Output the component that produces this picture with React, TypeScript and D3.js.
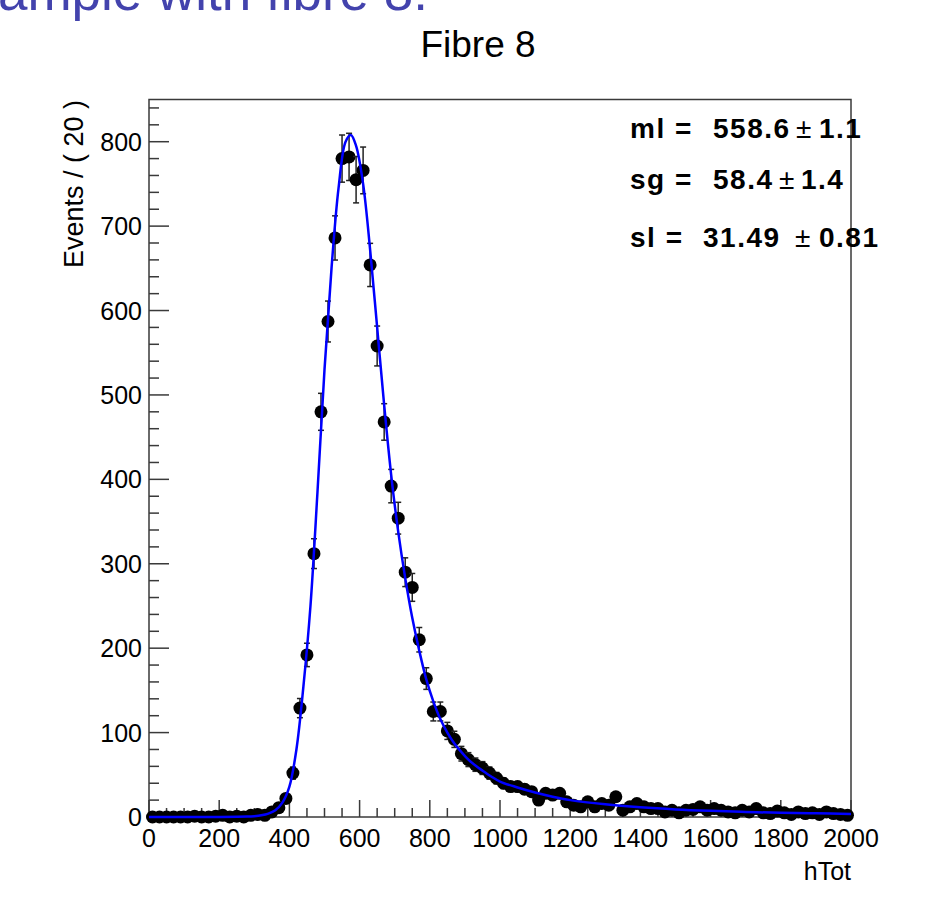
import React from "react";
import * as d3 from "d3";

// ---- Data ----
const binWidth = 20;
const binStart = 0;
const counts: number[] = [
  0, 0, 0, 0, 0, 0, 1, 0, 0, 1,
  2, 0, 1, 0, 2, 3, 2, 6, 11, 22,
  52, 129, 192, 312, 480, 587, 686, 780, 782, 755,
  766, 654, 558, 468, 392, 354, 290, 272, 210, 164,
  125, 125, 102, 92, 75, 68, 62, 58, 52, 46,
  40, 36, 36, 33, 30, 20, 28, 26, 28, 18,
  14, 12, 18, 12, 16, 14, 24, 8, 12, 16,
  12, 10, 10, 6, 8, 5, 8, 9, 12, 8,
  10, 8, 6, 5, 8, 6, 10, 5, 4, 7,
  5, 3, 6, 4, 5, 3, 6, 4, 3, 2,
];

// fit curve samples (x, y)
const curveX: number[] = [0, 200, 280, 300, 320, 340, 360, 380, 400, 420, 440, 460, 480, 500, 520, 540, 560, 575, 590, 610, 630, 650, 670, 690, 710, 730, 750, 770, 790, 810, 830, 850, 870, 890, 910, 930, 950, 975, 1000, 1050, 1100, 1150, 1200, 1300, 1400, 1500, 1600, 1700, 1800, 1900, 2000];
const curveY: number[] = [0, 0.05, 0.5, 1, 2, 4, 8, 17, 36, 80, 155, 250, 385, 530, 650, 745, 800, 808, 795, 750, 672, 580, 488, 405, 338, 283, 236, 197, 163, 137, 116, 100, 87, 77, 68, 61, 55, 48, 42, 35, 29, 24, 20, 15, 11.5, 9, 7.3, 6, 5, 4.3, 3.7];

const xMajorTicks = [0, 200, 400, 600, 800, 1000, 1200, 1400, 1600, 1800, 2000];
const yMajorTicks = [0, 100, 200, 300, 400, 500, 600, 700, 800];

const titleText = "Fibre 8";
const headerText = "Example with fibre 8:";
const yTitle = "Events / ( 20 )";
const xTitle = "hTot";
const paramLabels = ["ml =", "sg =", "sl ="];
const paramValues = ["558.6", "58.4", "31.49"];
const paramErrors = ["1.1", "1.4", "0.81"];

// ---- Layout ----
const W = 938;
const H = 907;
const left = 149;
const right = 851;
const top = 99.5;
const bottom = 817;

export default function App() {
  const x = d3.scaleLinear().domain([0, 2000]).range([left, right]);
  const y = d3.scaleLinear().domain([0, 850]).range([bottom, top]);

  const xMinor = d3.range(0, 2001, 50).filter((v) => v % 200 !== 0);
  const yMinor = d3.range(0, 851, 20).filter((v) => v % 100 !== 0);

  const line = d3
    .line<number>()
    .x((_, i) => x(curveX[i]))
    .y((d) => y(d))
    .curve(d3.curveCatmullRom.alpha(0.5));

  const font = "'Liberation Sans', Arial, Helvetica, sans-serif";
  const axisColor = "#3a3a3a";

  const points = counts.map((c, i) => ({
    cx: binStart + binWidth * (i + 0.5),
    c,
    e: Math.sqrt(c),
  }));

  const rowY = [138, 189, 247];
  const valueX = [713, 713, 703];
  const pmX = [796, 779, 795];
  const errX = [819, 801, 819];

  return (
    <svg
      width={W}
      height={H}
      style={{ position: "fixed", left: 0, top: 0, background: "#fff" }}
      fontFamily={font}
    >
      <rect x={0} y={0} width={W} height={H} fill="#fff" />
      {/* header cut off at the top (as in the reference) */}
      <text x={428} y={10} textAnchor="end" fontSize={53} fill="#4343ad">
        {headerText}
      </text>
      {/* title */}
      <text x={478} y={57} textAnchor="middle" fontSize={37} fill="#000">
        {titleText}
      </text>

      {/* frame */}
      <rect
        x={left}
        y={top}
        width={right - left}
        height={bottom - top}
        fill="none"
        stroke={axisColor}
        strokeWidth={1.5}
      />

      {/* y ticks */}
      {yMajorTicks.map((t) => (
        <g key={"ym" + t}>
          <line x1={left} x2={left + 20} y1={y(t)} y2={y(t)} stroke={axisColor} strokeWidth={1.5} />
          <text x={142} y={y(t)} dy="0.36em" textAnchor="end" fontSize={25}>
            {t}
          </text>
        </g>
      ))}
      {yMinor.map((t) => (
        <line key={"yn" + t} x1={left} x2={left + 10} y1={y(t)} y2={y(t)} stroke={axisColor} strokeWidth={1.5} />
      ))}

      {/* x ticks */}
      {xMajorTicks.map((t) => (
        <g key={"xm" + t}>
          <line x1={x(t)} x2={x(t)} y1={bottom} y2={bottom - 17} stroke={axisColor} strokeWidth={1.5} />
          <text x={x(t)} y={847} textAnchor="middle" fontSize={25}>
            {t}
          </text>
        </g>
      ))}
      {xMinor.map((t) => (
        <line key={"xn" + t} x1={x(t)} x2={x(t)} y1={bottom} y2={bottom - 9} stroke={axisColor} strokeWidth={1.5} />
      ))}

      {/* axis titles */}
      <text transform={`translate(83, 100) rotate(-90)`} textAnchor="end" fontSize={27}>
        {yTitle}
      </text>
      <text x={851} y={880} textAnchor="end" fontSize={25}>
        {xTitle}
      </text>

      {/* data points with error bars */}
      {points.map((p, i) => {
        const px = x(p.cx);
        const y0 = y(Math.max(0, p.c - p.e));
        const y1 = y(p.c + p.e);
        return (
          <g key={"p" + i}>
            {p.e > 0 && (
              <>
                <line x1={px} x2={px} y1={y0} y2={y1} stroke="#222" strokeWidth={1.5} />
                <line x1={px - 3} x2={px + 3} y1={y0} y2={y0} stroke="#222" strokeWidth={1.5} />
                <line x1={px - 3} x2={px + 3} y1={y1} y2={y1} stroke="#222" strokeWidth={1.5} />
              </>
            )}
            <circle cx={px} cy={y(p.c)} r={6.5} fill="#000" />
          </g>
        );
      })}

      {/* fit curve */}
      <path d={line(curveY) || ""} fill="none" stroke="#0000ff" strokeWidth={2.5} />

      {/* fit parameters */}
      {paramLabels.map((lab, i) => (
        <g key={"par" + i} fontSize={28}>
          <text x={630} y={rowY[i]} fontWeight="bold" letterSpacing={1.5}>
            {lab}
          </text>
          <text x={valueX[i]} y={rowY[i]} fontWeight="bold" letterSpacing={1.5}>
            {paramValues[i]}
          </text>
          <text x={pmX[i]} y={rowY[i]} fontWeight="normal">
            ±
          </text>
          <text x={errX[i]} y={rowY[i]} fontWeight="bold" letterSpacing={1.5}>
            {paramErrors[i]}
          </text>
        </g>
      ))}
    </svg>
  );
}
